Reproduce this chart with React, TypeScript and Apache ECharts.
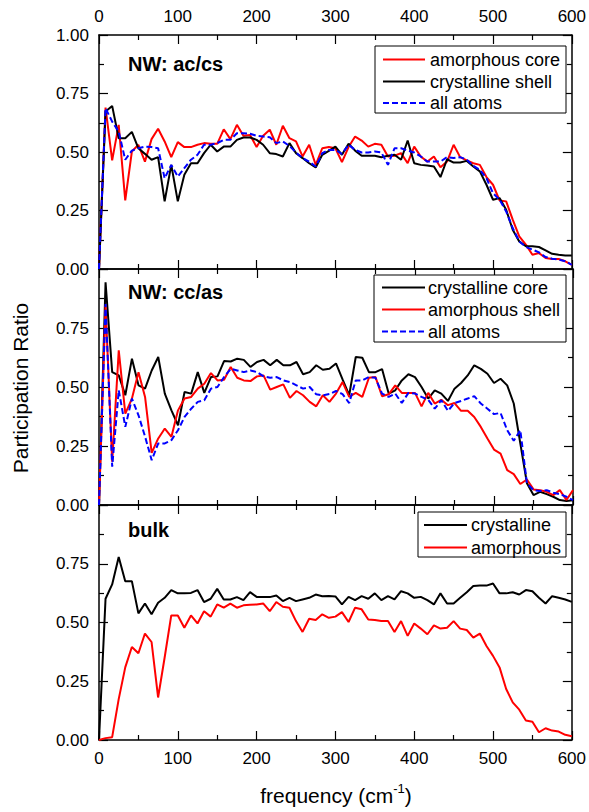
import React, { useEffect, useRef } from "react";
import * as echarts from "echarts";

// frequency grid (cm^-1)
const freq = [
  0, 8.3, 16.7, 25, 33.3, 41.7, 50, 58.3, 66.7, 75,
  83.3, 91.7, 100, 108.3, 116.7, 125, 133.3, 141.7, 150, 158.3,
  166.7, 175, 183.3, 191.7, 200, 208.3, 216.7, 225, 233.3, 241.7,
  250, 258.3, 266.7, 275, 283.3, 291.7, 300, 308.3, 316.7, 325,
  333.3, 341.7, 350, 358.3, 366.7, 375, 383.3, 391.7, 400, 408.3,
  416.7, 425, 433.3, 441.7, 450, 458.3, 466.7, 475, 483.3, 491.7,
  500, 508.3, 516.7, 525, 533.3, 541.7, 550, 558.3, 566.7, 575,
  583.3, 591.7, 600,
];

// Panel 1: NW ac/cs
const acCore = [
  0, 0.69, 0.464, 0.616, 0.293, 0.502, 0.531, 0.459, 0.555, 0.599,
  0.545, 0.478, 0.542, 0.521, 0.521, 0.531, 0.538, 0.535, 0.535, 0.597,
  0.555, 0.616, 0.569, 0.573, 0.521, 0.569, 0.595, 0.531, 0.612, 0.559,
  0.545, 0.481, 0.531, 0.445, 0.516, 0.521, 0.516, 0.457, 0.521, 0.566,
  0.549, 0.523, 0.535, 0.531, 0.481, 0.484, 0.495, 0.452, 0.523, 0.481,
  0.459, 0.481, 0.435, 0.459, 0.531, 0.478, 0.464, 0.452, 0.445, 0.393,
  0.36, 0.293, 0.289, 0.211, 0.139, 0.104, 0.061, 0.068, 0.047, 0.043,
  0.043, 0.033, 0.018,
];
const csShell = [
  0, 0.673, 0.697, 0.559, 0.559, 0.586, 0.516, 0.492, 0.467, 0.478,
  0.289, 0.445, 0.289, 0.403, 0.452, 0.452, 0.495, 0.531, 0.502, 0.523,
  0.523, 0.552, 0.562, 0.562, 0.552, 0.531, 0.495, 0.491, 0.481, 0.538,
  0.495, 0.474, 0.452, 0.434, 0.488, 0.505, 0.523, 0.488, 0.535, 0.506,
  0.484, 0.484, 0.484, 0.478, 0.484, 0.488, 0.467, 0.549, 0.452, 0.445,
  0.442, 0.438, 0.393, 0.469, 0.455, 0.455, 0.462, 0.438, 0.417, 0.36,
  0.296, 0.303, 0.253, 0.168, 0.118, 0.097, 0.097, 0.094, 0.08, 0.065,
  0.061, 0.058, 0.058,
];
const acAll = [
  0, 0.687, 0.63, 0.587, 0.467, 0.506, 0.516, 0.523, 0.521, 0.516,
  0.388, 0.445, 0.395, 0.431, 0.467, 0.488, 0.531, 0.531, 0.538, 0.552,
  0.552, 0.58, 0.58, 0.578, 0.569, 0.566, 0.563, 0.538, 0.545, 0.526,
  0.498, 0.474, 0.459, 0.438, 0.495, 0.509, 0.509, 0.492, 0.531, 0.509,
  0.498, 0.498, 0.502, 0.498, 0.445, 0.516, 0.516, 0.506, 0.498, 0.481,
  0.459, 0.459, 0.459, 0.478, 0.474, 0.478, 0.467, 0.441, 0.424, 0.388,
  0.324, 0.296, 0.246, 0.175, 0.118, 0.094, 0.083, 0.071, 0.051, 0.044,
  0.04, 0.033, 0.018,
];

// Panel 2: NW cc/as
const ccCore = [
  0, 0.944, 0.563, 0.549, 0.465, 0.62, 0.507, 0.493, 0.57, 0.627,
  0.472, 0.401, 0.338, 0.479, 0.472, 0.563, 0.475, 0.542, 0.545, 0.61,
  0.608, 0.62, 0.615, 0.585, 0.606, 0.615, 0.592, 0.615, 0.592, 0.592,
  0.606, 0.554, 0.563, 0.592, 0.573, 0.577, 0.6, 0.532, 0.465, 0.627,
  0.624, 0.563, 0.563, 0.576, 0.472, 0.486, 0.528, 0.554, 0.542, 0.5,
  0.451, 0.486, 0.472, 0.441, 0.493, 0.517, 0.549, 0.592, 0.577, 0.556,
  0.517, 0.535, 0.507, 0.43, 0.261, 0.092, 0.042, 0.056, 0.046, 0.035,
  0.021, 0.017, 0.02,
];
const asShell = [
  0, 0.845, 0.183, 0.655, 0.387, 0.451, 0.563, 0.458, 0.221, 0.282,
  0.324, 0.289, 0.401, 0.451, 0.458, 0.493, 0.514, 0.559, 0.528, 0.531,
  0.585, 0.539, 0.528, 0.525, 0.545, 0.549, 0.489, 0.5, 0.511, 0.454,
  0.483, 0.465, 0.437, 0.418, 0.465, 0.437, 0.472, 0.521, 0.458, 0.475,
  0.458, 0.539, 0.542, 0.461, 0.469, 0.507, 0.475, 0.475, 0.475, 0.418,
  0.475, 0.43, 0.446, 0.423, 0.432, 0.399, 0.399, 0.373, 0.331, 0.282,
  0.235, 0.218, 0.148, 0.131, 0.089, 0.108, 0.066, 0.063, 0.056, 0.042,
  0.063, 0.021, 0.063,
];
const ccAll = [
  0, 0.852, 0.162, 0.486, 0.331, 0.451, 0.38, 0.29, 0.19, 0.261,
  0.261, 0.275, 0.317, 0.373, 0.408, 0.437, 0.444, 0.493, 0.5, 0.542,
  0.577, 0.57, 0.563, 0.57, 0.563, 0.545, 0.539, 0.542, 0.528, 0.521,
  0.507, 0.493, 0.5, 0.469, 0.465, 0.47, 0.483, 0.47, 0.432, 0.528,
  0.528, 0.542, 0.539, 0.472, 0.458, 0.472, 0.432, 0.475, 0.472, 0.458,
  0.446, 0.408, 0.444, 0.399, 0.432, 0.441, 0.451, 0.461, 0.43, 0.408,
  0.385, 0.39, 0.317, 0.272, 0.317, 0.092, 0.063, 0.059, 0.063, 0.052,
  0.046, 0.035, 0.021,
];

// Panel 3: bulk
const bulkCryst = [
  0, 0.601, 0.662, 0.779, 0.676, 0.676, 0.539, 0.581, 0.535, 0.584,
  0.605, 0.638, 0.624, 0.624, 0.626, 0.638, 0.587, 0.601, 0.643, 0.598,
  0.598, 0.608, 0.595, 0.629, 0.609, 0.609, 0.608, 0.615, 0.591, 0.605,
  0.591, 0.598, 0.605, 0.619, 0.612, 0.613, 0.611, 0.577, 0.609, 0.595,
  0.612, 0.601, 0.624, 0.595, 0.612, 0.598, 0.633, 0.624, 0.605, 0.609,
  0.595, 0.577, 0.624, 0.581, 0.581, 0.605, 0.629, 0.655, 0.657, 0.657,
  0.666, 0.624, 0.624, 0.629, 0.619, 0.638, 0.633, 0.605, 0.581, 0.612,
  0.605, 0.598, 0.588,
];
const bulkAmor = [
  0, 0.008, 0.012, 0.174, 0.309, 0.396, 0.369, 0.453, 0.417, 0.181,
  0.351, 0.53, 0.53, 0.478, 0.53, 0.496, 0.548, 0.525, 0.577, 0.563,
  0.58, 0.563, 0.573, 0.576, 0.577, 0.581, 0.548, 0.587, 0.567, 0.563,
  0.506, 0.46, 0.516, 0.511, 0.535, 0.52, 0.525, 0.544, 0.502, 0.563,
  0.556, 0.513, 0.511, 0.506, 0.506, 0.46, 0.506, 0.443, 0.496, 0.474,
  0.45, 0.488, 0.474, 0.478, 0.506, 0.474, 0.468, 0.436, 0.453, 0.4,
  0.358, 0.309, 0.217, 0.16, 0.129, 0.083, 0.078, 0.033, 0.05, 0.04,
  0.036, 0.022, 0.016,
];

const xTicks = [0, 100, 200, 300, 400, 500, 600];
const yTicks = [0, 0.25, 0.5, 0.75, 1];

const panelTitles = ["NW: ac/cs", "NW: cc/as", "bulk"];
const legend1 = ["amorphous core", "crystalline shell", "all atoms"];
const legend2 = ["crystalline core", "amorphous shell", "all atoms"];
const legend3 = ["crystalline", "amorphous"];

const FONT = "'Liberation Sans', Arial, Helvetica, sans-serif";
const RED = "#ff0000";
const BLACK = "#000000";
const BLUE = "#0000ff";

const grids = [
  { left: 99, right: 16, top: 35, height: 234 },
  { left: 99, right: 16, top: 269, height: 236 },
  { left: 99, right: 16, top: 505, height: 235 },
];

function axisCommon() {
  return {
    type: "value",
    axisLine: { show: true, onZero: false, lineStyle: { color: "#000", width: 1.5 } },
    axisTick: { show: true, inside: true, length: 9, lineStyle: { color: "#000", width: 1.2 } },
    minorTick: { show: true, splitNumber: 2, length: 5, lineStyle: { color: "#000", width: 1.2 } },
    splitLine: { show: false },
    minorSplitLine: { show: false },
  };
}

function makeX(g: number, position: string, showLabel: boolean) {
  return {
    ...axisCommon(),
    gridIndex: g,
    position,
    min: xTicks[0],
    max: xTicks[xTicks.length - 1],
    interval: xTicks[1] - xTicks[0],
    axisLabel: {
      show: showLabel,
      margin: 10,
      color: "#000",
      fontSize: 17,
      fontFamily: FONT,
    },
  };
}

function makeY(g: number, position: string, showLabel: boolean, hideMax: boolean) {
  return {
    ...axisCommon(),
    gridIndex: g,
    position,
    min: yTicks[0],
    max: yTicks[yTicks.length - 1],
    interval: yTicks[1] - yTicks[0],
    axisLabel: {
      show: showLabel,
      margin: 10,
      color: "#000",
      fontSize: 17,
      fontFamily: FONT,
      formatter: (v: number) => (hideMax && v >= 1 ? "" : v.toFixed(2)),
    },
  };
}

function line(name: string, arr: number[], g: number, color: string, dashed = false) {
  return {
    name,
    type: "line",
    xAxisIndex: g * 2,
    yAxisIndex: g * 2,
    symbol: "none",
    showSymbol: false,
    data: freq.map((f, i) => [f, arr[i]]),
    lineStyle: { color, width: 2, type: dashed ? [6, 3] : "solid" },
    itemStyle: { color },
    z: dashed ? 4 : 3,
  };
}

function legendBox(
  x: number, y: number, w: number, h: number,
  lineX1: number, lineX2: number, textX: number,
  rows: number[], labels: string[], colors: string[], dashed: boolean[]
) {
  const els: any[] = [
    {
      type: "rect",
      shape: { x, y, width: w, height: h },
      style: { fill: "#fff", stroke: "#000", lineWidth: 1 },
      z: 10,
    },
  ];
  labels.forEach((lab, i) => {
    els.push({
      type: "line",
      shape: { x1: lineX1, y1: rows[i], x2: lineX2, y2: rows[i] },
      style: { stroke: colors[i], lineWidth: 2, lineDash: dashed[i] ? [6, 3] : null },
      z: 11,
    });
    els.push({
      type: "text",
      x: textX,
      y: rows[i],
      style: {
        text: lab,
        font: `18px ${FONT}`,
        fill: "#000",
        align: "left",
        verticalAlign: "middle",
        textAlign: "left",
        textVerticalAlign: "middle",
      },
      z: 11,
    });
  });
  return els;
}

export default function App() {
  const ref = useRef<HTMLDivElement>(null);

  useEffect(() => {
    if (!ref.current) return;
    const chart = echarts.init(ref.current, null, { renderer: "svg" });

    const titleYs = [64, 292, 530];
    const graphic: any[] = [];
    panelTitles.forEach((t, i) => {
      graphic.push({
        type: "text",
        x: 128,
        y: titleYs[i],
        style: {
          text: t,
          font: `bold 20px ${FONT}`,
          fill: "#000",
          align: "left",
          verticalAlign: "middle",
          textAlign: "left",
          textVerticalAlign: "middle",
        },
        z: 12,
      });
    });
    graphic.push(
      ...legendBox(375, 46, 191, 67, 383, 425, 430, [59.5, 81.5, 103], legend1,
        [RED, BLACK, BLUE], [false, false, true])
    );
    graphic.push(
      ...legendBox(374, 275, 192, 67, 382, 425, 428, [287.5, 309.5, 331.5], legend2,
        [BLACK, RED, BLUE], [false, false, true])
    );
    graphic.push(
      ...legendBox(418, 512, 148, 45, 424, 467, 471, [525, 547.5], legend3,
        [BLACK, RED], [false, false])
    );
    // axis titles
    graphic.push({
      type: "text",
      x: 20,
      y: 388,
      rotation: Math.PI / 2,
      style: {
        text: "Participation Ratio",
        font: `21px ${FONT}`,
        fill: "#000",
        align: "center",
        verticalAlign: "middle",
        textAlign: "center",
        textVerticalAlign: "middle",
      },
    });
    graphic.push({
      type: "text",
      x: 336,
      y: 794,
      style: {
        text: "{a|frequency (cm}{b|-1}{a|)}",
        align: "center",
        verticalAlign: "middle",
        textAlign: "center",
        textVerticalAlign: "middle",
        fill: "#000",
        rich: {
          a: { fontSize: 21, fontFamily: FONT, lineHeight: 24, verticalAlign: "bottom", fill: "#000", color: "#000" },
          b: { fontSize: 13, fontFamily: FONT, lineHeight: 14, verticalAlign: "top", fill: "#000", color: "#000" },
        },
      },
    });

    const option: any = {
      animation: false,
      backgroundColor: "#fff",
      textStyle: { fontFamily: FONT },
      grid: grids,
      xAxis: [
        makeX(0, "bottom", false), makeX(0, "top", true),
        makeX(1, "bottom", false), makeX(1, "top", false),
        makeX(2, "bottom", true), makeX(2, "top", false),
      ],
      yAxis: [
        makeY(0, "left", true, false), makeY(0, "right", false, false),
        makeY(1, "left", true, true), makeY(1, "right", false, false),
        makeY(2, "left", true, true), makeY(2, "right", false, false),
      ],
      series: [
        line(legend1[0], acCore, 0, RED),
        line(legend1[1], csShell, 0, BLACK),
        line(legend1[2], acAll, 0, BLUE, true),
        line(legend2[0], ccCore, 1, BLACK),
        line(legend2[1], asShell, 1, RED),
        line(legend2[2], ccAll, 1, BLUE, true),
        line(legend3[0], bulkCryst, 2, BLACK),
        line(legend3[1], bulkAmor, 2, RED),
      ],
      graphic,
    };
    chart.setOption(option);
    return () => chart.dispose();
  }, []);

  return (
    <div
      ref={ref}
      style={{ position: "fixed", left: 0, top: 0, width: 589, height: 812, background: "#fff" }}
    />
  );
}
